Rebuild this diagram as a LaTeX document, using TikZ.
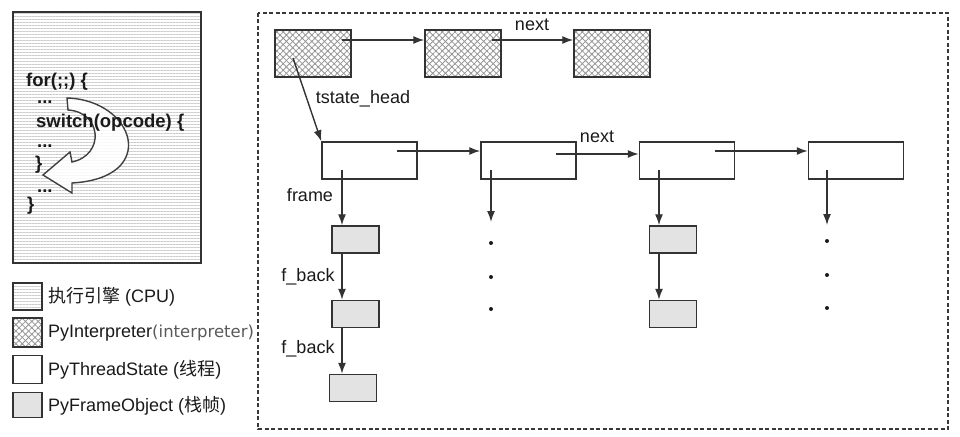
\documentclass[tikz,border=0pt]{standalone}
\usepackage{fontspec}
\setmainfont{Liberation Sans}
\newfontfamily\cjk{Noto Sans CJK SC}
\newfontfamily\dejavu{DejaVu Sans}
\usetikzlibrary{arrows.meta,patterns.meta}
\definecolor{edge}{HTML}{333333}
\definecolor{ink}{HTML}{1A1A1A}
\tikzset{
  hatch/.style={preaction={pattern={Lines[angle=45,distance=4.5pt,line width=0.8pt]},pattern color=gray!85},
    pattern={Lines[angle=-45,distance=4.5pt,line width=0.8pt]}, pattern color=gray!85},
  hlines/.style={pattern={Lines[angle=0,distance=3pt,line width=0.7pt]}, pattern color=gray!40},
  interp/.style={draw=edge, line width=1.5pt, hatch, inner sep=0pt, minimum width=76pt, minimum height=47pt},
  tstate/.style={draw=edge, line width=1.5pt, fill=white, inner sep=0pt, minimum width=95pt, minimum height=37pt},
  frameobj/.style={draw=edge, line width=1.5pt, fill=gray!22, inner sep=0pt, minimum width=47pt, minimum height=27pt},
  legbox/.style={draw=edge, line width=1.4pt, inner sep=0pt, minimum width=29pt, minimum height=27pt},
  link/.style={-{Latex[length=11pt,width=8pt]}, line width=1.4pt, draw=edge},
  lbl/.style={text=ink, font=\fontsize{18}{21}\selectfont, inner sep=0pt},
  code/.style={text=ink, font=\fontsize{18.5}{21}\selectfont\bfseries, inner sep=0pt, anchor=base west},
  dot/.style={fill=ink, draw=none}
}
\begin{document}
\begin{tikzpicture}[x=1pt, y=-1pt]
      \useasboundingbox (0,0) rectangle (960,436);
      % execution engine
      \draw[edge, line width=1.5pt, hlines] (13,12) rectangle (201,263);
      \draw[fill=white, fill opacity=0.85, draw=gray!50!black, line width=1.4pt]
        (67,98) .. controls (135,100) and (160,178) .. (72,183)
        -- (72,193) -- (43,175) -- (70,152) -- (72,162)
        .. controls (105,155) and (102,112) .. (68,110) -- cycle;
      \node[code] at (26,86) {for(;;) \{};
      \node[code] at (37,103) {...};
      \node[code] at (36,127) {switch(opcode) \{};
      \node[code] at (37,147) {...};
      \node[code] at (35,169) {\}};
      \node[code] at (37,192) {...};
      \node[code] at (27,210) {\}};
      %
      % legend
      \node[legbox, hlines] (lg1) at (27.5,296.5) {};
      \node[legbox, hatch, minimum height=29pt] (lg2) at (27.5,332.5) {};
      \node[legbox, minimum height=28pt] (lg3) at (27.5,369.5) {};
      \node[legbox, fill=gray!22, minimum height=25pt] (lg4) at (27.5,405) {};
      \node[lbl, anchor=west] at (48,297) {{\cjk 执行引擎} (CPU)};
      \node[lbl, anchor=west] at (48,333) {PyInterpreter{\dejavu\fontsize{16.5}{20}\selectfont\color{gray!70!black}(interpreter)}};
      \node[lbl, anchor=west] at (48,370) {PyThreadState ({\cjk 线程})};
      \node[lbl, anchor=west] at (48,406) {PyFrameObject ({\cjk 栈帧})};
      %
      % interpreter area
      \draw[gray!45!black, line width=1.4pt, dash pattern=on 4pt off 2.5pt] (258,13) rectangle (948,429);
      %
      \node[interp] (i1) at (313,53.5) {};
      \node[interp] (i2) at (463,53.5) {};
      \node[interp] (i3) at (612,53.5) {};
      %
      \node[tstate] (t1) at (369.5,160.5) {};
      \node[tstate] (t2) at (528.5,160.5) {};
      \node[tstate] (t3) at (687,160.5) {};
      \node[tstate] (t4) at (856,160.5) {};
      %
      \node[frameobj] (f11) at (355.5,239.5) {};
      \node[frameobj] (f12) at (355.5,314) {};
      \node[frameobj] (f13) at (353,388) {};
      \node[frameobj] (f31) at (673,239.5) {};
      \node[frameobj] (f32) at (673,314) {};
      %
      \coordinate (i1p) at (342,40);
      \coordinate (i2p) at (492,40);
      \coordinate (i1h) at (293,58);
      \draw[link] (i1p) -- (i1p -| i2.west);
      \draw[link] (i2p) -- (i2p -| i3.west);
      \draw[link] (i1h) -- (t1.north west);
      \node[lbl] at (532,25) {next};
      \node[lbl] at (363,99) {tstate\_head};
      %
      \coordinate (t1p) at (397,151);
      \coordinate (t2p) at (556,154);
      \coordinate (t3p) at (715,151);
      \draw[link] (t1p) -- (t1p -| t2.west);
      \draw[link] (t2p) -- (t2p -| t3.west);
      \draw[link] (t3p) -- (t3p -| t4.west);
      \node[lbl] at (597,137) {next};
      %
      \coordinate (t1d) at (342,170);
      \coordinate (t2d) at (491,170);
      \coordinate (t3d) at (659,170);
      \coordinate (t4d) at (827,170);
      \coordinate (t2e) at (491,222);
      \coordinate (t4e) at (827,225);
      \draw[link] (t1d) -- (t1d |- f11.north);
      \draw[link] (t1d |- f11.south) -- (t1d |- f12.north);
      \draw[link] (t1d |- f12.south) -- (t1d |- f13.north);
      \draw[link] (t3d) -- (t3d |- f31.north);
      \draw[link] (t3d |- f31.south) -- (t3d |- f32.north);
      \draw[link] (t2d) -- (t2e);
      \draw[link] (t4d) -- (t4e);
      \node[lbl] at (310,195) {frame};
      \node[lbl] at (308,277) {f\_back};
      \node[lbl] at (308,349) {f\_back};
      %
      \fill[dot] (491,243) circle (2) (491,277) circle (2) (491,309) circle (2);
      \fill[dot] (827,241) circle (2) (827,275) circle (2) (827,308) circle (2);
    \end{tikzpicture}
\end{document}
